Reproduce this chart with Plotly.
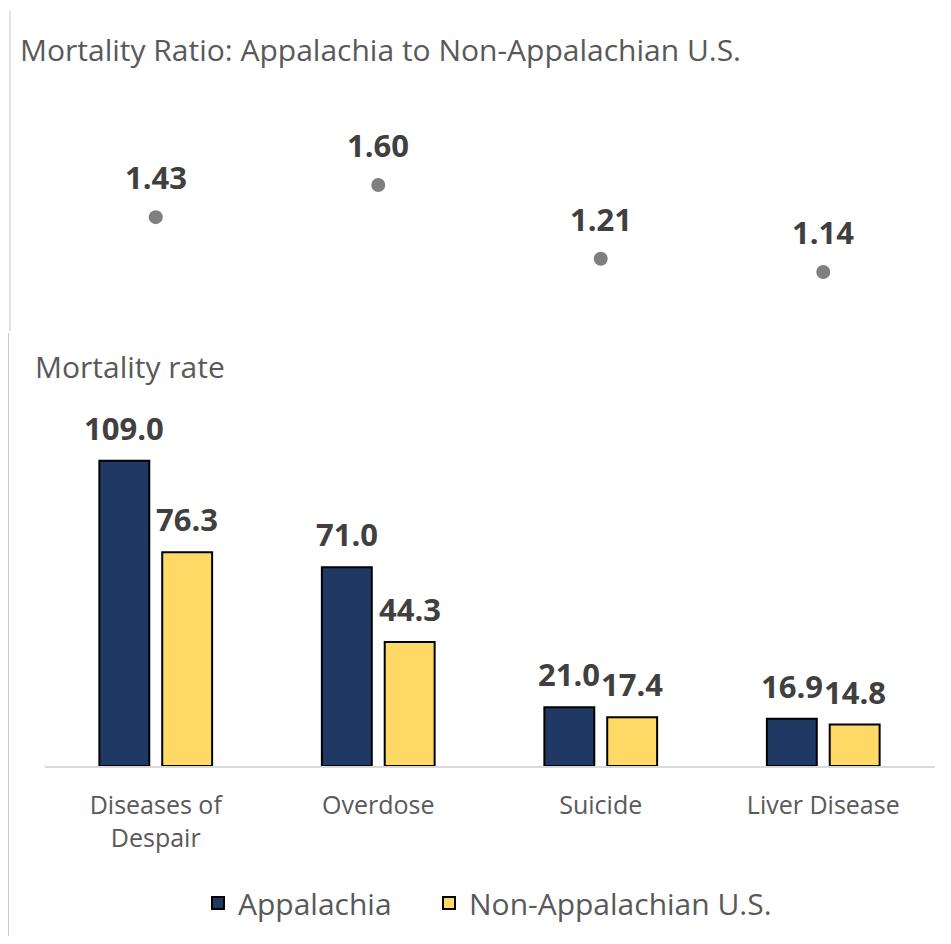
import plotly.graph_objects as go

categories = ["Diseases of<br>Despair", "Overdose", "Suicide", "Liver Disease"]
ratio = [1.43, 1.60, 1.21, 1.14]
appalachia = [109.0, 71.0, 21.0, 16.9]
non_appalachia = [76.3, 44.3, 17.4, 14.8]
series_names = ["Appalachia", "Non-Appalachian U.S."]

OFF = 8  # default page body margin
W, H = 951 - 2 * OFF, 944 - 2 * OFF
FONT = "Open Sans"
NAVY = "#1F3864"
YELLOW = "#FFD966"
DARK = "#404040"
GREY = "#595959"

def py(p):
    return 1 - (p - OFF) / H

def px(p):
    return (p - OFF) / W

fig = go.Figure()

# top: ratio dots
fig.add_trace(go.Scatter(
    x=categories, y=ratio, mode="markers",
    marker=dict(size=14, color="#7F7F7F"),
    xaxis="x", yaxis="y", showlegend=False, cliponaxis=False,
))
for c, r in zip(categories, ratio):
    fig.add_annotation(x=c, y=r, xref="x", yref="y", text=f"<b>{r:.2f}</b>",
                       showarrow=False, yshift=40,
                       font=dict(family=FONT, size=31, color=DARK))

# bottom: bars
for name, vals, col, shift, leg in [(series_names[0], appalachia, NAVY, -31.5, "legend"),
                                    (series_names[1], non_appalachia, YELLOW, 31.5, "legend2")]:
    fig.add_trace(go.Bar(
        x=categories, y=vals, name=name, xaxis="x2", yaxis="y2", legend=leg,
        marker=dict(color=col, line=dict(color="#000000", width=2)),
    ))
    for c, v in zip(categories, vals):
        fig.add_annotation(x=c, y=v, xref="x2", yref="y2", text=f"<b>{v:.1f}</b>",
                           showarrow=False, xshift=shift, yshift=33,
                           font=dict(family=FONT, size=31, color=DARK))

xdom = [px(44.5), px(934.5)]
legfont = dict(family=FONT, size=30, color=GREY)
fig.update_layout(
    width=W, height=H,
    margin=dict(l=0, r=0, t=0, b=0),
    paper_bgcolor="white", plot_bgcolor="white",
    font=dict(family=FONT, color=GREY),
    barmode="group", bargap=0.435, bargroupgap=0.206,
    xaxis=dict(domain=xdom, anchor="y", visible=False, type="category", range=[-0.5, 3.5]),
    yaxis=dict(domain=[py(330), py(100)], anchor="x", visible=False,
               range=[1.60 - (330 - 185) / 189, 1.60 + (185 - 100) / 189]),
    xaxis2=dict(domain=xdom, anchor="y2", type="category", showline=True, range=[-0.5, 3.5],
                linecolor="#D9D9D9", linewidth=2, ticks="",
                tickfont=dict(family=FONT, size=25, color=GREY),
                ticklabelstandoff=16, showgrid=False),
    yaxis2=dict(domain=[py(766), py(400)], anchor="x2", visible=False,
                range=[0, (766 - 400) / 2.8]),
    legend=dict(orientation="h", x=px(198), xanchor="left", y=py(903), yanchor="middle",
                font=legfont, itemwidth=30),
    legend2=dict(orientation="h", x=px(429), xanchor="left", y=py(903), yanchor="middle",
                 font=legfont, itemwidth=30),
)

fig.add_annotation(x=px(18), y=py(50), xref="paper", yref="paper", xanchor="left", yanchor="middle",
                   text="Mortality Ratio: Appalachia to Non-Appalachian U.S.", showarrow=False,
                   font=dict(family=FONT, size=30, color=GREY))
fig.add_annotation(x=px(33), y=py(366), xref="paper", yref="paper", xanchor="left", yanchor="middle",
                   text="Mortality rate", showarrow=False,
                   font=dict(family=FONT, size=30, color=GREY))

# faint frame lines at left
fig.add_shape(type="line", xref="paper", yref="paper", x0=px(10), x1=px(10), y0=py(10), y1=py(331),
              line=dict(color="#C8C8C8", width=1))
fig.add_shape(type="line", xref="paper", yref="paper", x0=px(8.5), x1=px(8.5), y0=py(333), y1=py(944),
              line=dict(color="#C8C8C8", width=1))

fig.write_html("out.html")
